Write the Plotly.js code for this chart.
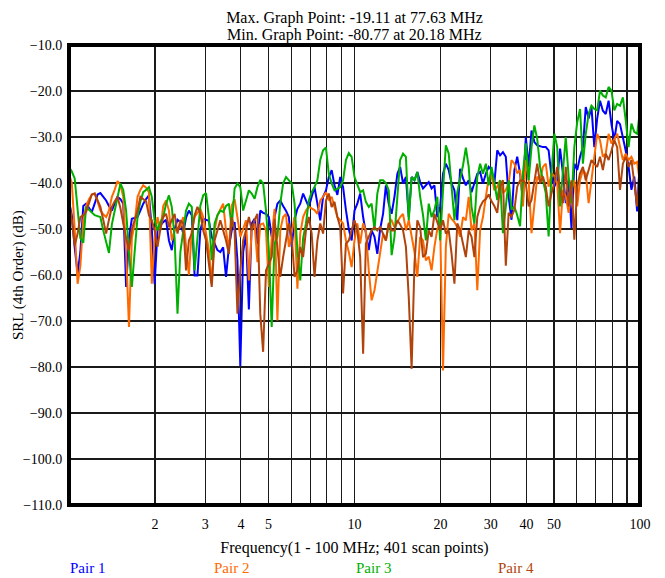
<!DOCTYPE html>
<html><head><meta charset="utf-8">
<script src="https://cdn.plot.ly/plotly-3.0.1.min.js"></script>
<style>html,body{margin:0;padding:0;background:#fff}#chart{width:665px;height:578px}</style>
</head><body><div id="chart"></div>
<script>
// Frequency scan points (MHz), log spaced 1 - 100 MHz
const freqMHz = [1.000,1.023,1.047,1.072,1.096,1.122,1.148,1.175,1.202,1.230,1.259,1.288,1.318,1.349,1.380,1.413,1.445,1.479,1.514,1.549,1.585,1.622,1.660,1.698,1.738,1.778,1.820,1.862,1.905,1.950,1.995,2.042,2.089,2.138,2.188,2.239,2.291,2.344,2.399,2.455,2.512,2.570,2.630,2.692,2.754,2.818,2.884,2.951,3.020,3.090,3.162,3.236,3.311,3.388,3.467,3.548,3.631,3.715,3.802,3.890,3.981,4.074,4.169,4.266,4.365,4.467,4.571,4.677,4.786,4.898,5.012,5.129,5.248,5.370,5.495,5.623,5.754,5.888,6.026,6.166,6.310,6.457,6.607,6.761,6.918,7.079,7.244,7.413,7.586,7.762,7.943,8.128,8.318,8.511,8.710,8.913,9.120,9.333,9.550,9.772,10.00,
10.23,10.47,10.72,10.96,11.22,11.48,11.75,12.02,12.30,12.59,12.88,13.18,13.49,13.80,14.13,14.45,14.79,15.14,15.49,15.85,16.22,16.60,16.98,17.38,17.78,18.20,18.62,19.05,19.50,19.95,20.42,20.89,21.38,21.88,22.39,22.91,23.44,23.99,24.55,25.12,25.70,26.30,26.92,27.54,28.18,28.84,29.51,30.20,30.90,31.62,32.36,33.11,33.88,34.67,35.48,36.31,37.15,38.02,38.90,39.81,40.74,41.69,42.66,43.65,44.67,45.71,46.77,47.86,48.98,50.12,51.29,52.48,53.70,54.95,56.23,57.54,58.88,60.26,61.66,63.10,64.57,66.07,67.61,69.18,70.79,72.44,74.13,75.86,77.63,79.43,81.28,83.18,85.11,87.10,89.13,91.20,93.33,95.50,97.72,100.0];

// SRL (dB) per pair
const pair1 = [-44,-47,-54,-59.7,-55,-45,-44.5,-45.5,-46.3,-44.5,
-42.5,-42.2,-43,-43.8,-45,-46,-44.5,-43,-43.5,-44.5,
-62.6,-52,-47.8,-47.6,-47.4,-46,-44.5,-43.5,-42.7,-50,
-62,-50.3,-49.2,-48.5,-48,-52.5,-54.6,-50,-48,-48.5,
-51,-47.5,-46,-47,-60.1,-60.1,-50.3,-47.8,-48,-48.2,
-51.7,-53,-54.6,-55,-54,-60.4,-54,-50.3,-48.5,-56.8,
-79.8,-55,-51,-67.5,-48.8,-47.8,-53.2,-46,-46.5,-46.7,
-47.4,-51.7,-47.4,-44.5,-43.8,-45,-46,-47.4,-53.9,-48,
-45.6,-44.5,-42.3,-43.8,-45.2,-43,-40.9,-44.5,-48.1,-43,
-41.6,-38.7,-37.2,-40.5,-42.6,-38.7,-40.9,-45.9,-50,-52.5,
-46,-44.5,-42.3,-47.4,-51,-54.6,-50.3,-51.7,-55.4,-50,
-46.7,-40.5,-44.5,-46.7,-43,-38,-36.5,-40.1,-38.7,-47.4,
-38.7,-39.4,-37.6,-39.8,-41.2,-40.5,-39.8,-41.2,-40.5,-47.4,
-45.2,-38,-35.8,-37.2,-40.1,-41.6,-48.1,-36.9,-39,-40.5,
-39.4,-42,-40.1,-38,-37.6,-40.1,-38,-36.5,-37.2,-40.1,
-32.9,-34,-33.3,-34.3,-43,-48,-37.2,-34.3,-38,-43.7,
-30,-36.5,-28.6,-31.1,-31.8,-32,-32.2,-32.2,-32.9,-38.6,
-40.8,-39.4,-32.5,-37.9,-44.4,-39.4,-49.8,-35.8,-37.2,-34.3,
-32.2,-23.5,-26,-23.5,-32.2,-26,-22.1,-24.3,-25,-22.1,
-27.2,-30.7,-26.5,-27.2,-30,-33,-36.5,-41.5,-38.6,-46.2,
-34.3];

const pair2 = [-38,-40,-50,-61.9,-58,-48,-45,-43.5,-42.5,-42.3,
-44,-46,-46.8,-47.4,-46,-43,-41.5,-39.6,-40.5,-43,
-55,-71.3,-52,-48.8,-43,-41.5,-40.5,-41,-42,-61.9,
-52,-47.4,-50.3,-45,-43.8,-46,-52.5,-50.3,-49.8,-49.6,
-47.4,-54.6,-60,-50.3,-47.4,-46.5,-45.6,-47.4,-51,-54.6,
-61.9,-50.3,-47,-45.6,-44.5,-50.3,-54.6,-44.9,-43.5,-47.4,
-51.7,-50,-48.1,-61.2,-50,-48.8,-57.2,-49,-48.8,-50.3,
-62.6,-52,-45.6,-69.9,-50.3,-47.4,-46.7,-53.9,-50.3,-47.4,
-63,-51,-47.4,-46,-45.2,-45.5,-45.9,-46.7,-43.8,-43,
-42,-43.8,-43,-45.2,-47.4,-48.1,-48.8,-52.5,-55,-58.3,
-52.5,-48.8,-53.2,-48.8,-50.3,-59,-65.5,-63.3,-59,-55.4,
-51,-52.5,-48.8,-48.1,-49.6,-48.5,-47.4,-46.7,-50.3,-48.1,
-51.7,-55,-60.4,-51.7,-52.5,-56.8,-56,-59,-53.9,-50,
-48.8,-80.77,-53.9,-46.7,-47.8,-48.5,-49.6,-51.7,-47.4,-48.1,
-43,-50.3,-48.8,-63.3,-50.3,-47.4,-43,-39,-38.5,-41.6,
-40.8,-39.4,-42.2,-41.5,-40.1,-35,-35.8,-37.9,-37.2,-45.1,
-35,-39.4,-50.9,-44.4,-38.6,-39.4,-36.5,-35.8,-40.8,-37.9,
-38.5,-40.1,-50.9,-41.5,-42.9,-46.5,-41.5,-39.4,-45.1,-39.4,
-37.2,-37.9,-44.4,-39.4,-34.3,-29.3,-30.7,-34.3,-33.6,-29.3,
-31.4,-30.5,-29.3,-32.2,-35,-33.6,-35,-34.3,-35.8,-35.4,
-40.1];

const pair3 = [-36.5,-37.5,-39,-45,-52,-53,-45.2,-45.8,-46.3,-47,
-47.2,-47.4,-50.3,-53,-55.2,-49,-46,-42.5,-40.1,-41.5,
-46,-55,-62.6,-55,-47.4,-44,-42,-41.5,-40.9,-43,
-48.1,-50.3,-48.5,-47.4,-44.5,-42.7,-45.2,-52,-68.4,-55,
-51,-46,-44.5,-45.2,-59,-51,-45,-42.7,-42.2,-47.4,
-56.8,-48.8,-47,-46,-46.3,-45,-44.5,-49.6,-41.2,-40.1,
-40.9,-46,-43.5,-41.6,-42.3,-43.4,-40.9,-39.3,-40.1,-46,
-54.6,-71.3,-53.2,-51.7,-44.5,-40.1,-38.7,-39.5,-40.1,-44.5,
-54.6,-61.2,-52,-48.8,-43.8,-42,-40.9,-39.4,-35,-32.9,
-32.3,-38,-40.1,-41.6,-41.2,-40.9,-39.4,-35,-33.5,-34.3,
-38.7,-40.5,-42,-41.6,-44.1,-45.2,-44.5,-50.3,-42.3,-39.4,
-39.4,-40,-41.6,-55.7,-51.7,-43,-35,-33.6,-34.3,-48.1,
-38.7,-39.4,-37.6,-43,-47,-52.5,-44.5,-47.4,-45.9,-43,
-52.5,-41.6,-31.8,-33.6,-40.9,-48.1,-42,-39.4,-36.2,-32.3,
-36.5,-45.2,-48.8,-38.7,-35.8,-38,-35.8,-40.5,-36.5,-40,
-43.7,-39.4,-50.9,-45.1,-39.4,-45.8,-45.1,-47,-49.4,-37.9,
-31.4,-39.4,-32.2,-27.5,-30.4,-36.5,-39.4,-42.2,-51.6,-37.9,
-29.3,-32.2,-45.1,-37.9,-30,-38.6,-44.4,-32.2,-26.8,-23.9,
-35.8,-29.3,-25,-23.2,-23.9,-24.2,-19.9,-21,-21.4,-19.11,
-19.9,-24.2,-22.8,-23.2,-21.4,-26.4,-32.2,-27.1,-28.9,-29.3,
-24.2];

const pair4 = [-43.8,-48,-53.6,-51,-47.4,-47,-46.3,-44.5,-42.5,-42.3,
-44,-45.2,-48,-51,-48,-45.2,-44,-43,-45.5,-49.2,
-52,-54.6,-50,-48.1,-46,-43,-43.5,-44,-47,-48.1,
-50.3,-53.9,-50,-47.4,-46.7,-49.6,-48,-46.7,-51,-48.1,
-48.8,-59,-52.5,-51,-47,-45.2,-46.7,-50.3,-52.5,-57,
-62.6,-52.5,-50,-48.1,-50.3,-52.5,-55.4,-47.4,-50.3,-68.4,
-59,-52.5,-50.3,-47.4,-50.3,-48,-46.7,-68.4,-76.7,-59,
-57.5,-56.1,-47.8,-53.9,-60.4,-56.1,-52,-48.8,-51.7,-60.4,
-59,-53.9,-56.1,-50.3,-47.4,-51,-60.4,-52.5,-48.8,-51,
-43.8,-42.3,-45.2,-44.1,-47.4,-49.6,-64,-53.2,-52.5,-50,
-48.1,-50.3,-56.1,-77.1,-53.2,-51.7,-50.3,-49.6,-50.3,-49.6,
-51,-52.5,-48.8,-50.3,-50.3,-48.1,-49,-50.3,-53.9,-64.8,
-80.4,-57.5,-48.1,-49.6,-56.1,-55.4,-50.3,-51.7,-46.7,-48.5,
-50.3,-48.1,-51,-50.3,-55.4,-61.9,-48.8,-50.3,-53,-56.1,
-50.3,-51.7,-56.1,-47.4,-45.2,-44,-43.5,-42.5,-44,-45,
-46.5,-40.8,-39.4,-58,-46.5,-47.3,-45.8,-40.8,-39.4,-39.5,
-40.1,-45.1,-43.7,-39.4,-35.8,-40.1,-38.6,-40.8,-45.1,-42.2,
-40,-36.5,-41.5,-44.4,-36.5,-45.1,-39.4,-52.3,-40.8,-37.9,
-36.5,-39.4,-37,-35,-35.8,-36.5,-34.3,-37.2,-33.6,-35,
-33,-30.7,-32.2,-41.5,-35.8,-34.3,-36.5,-35,-40.1,-45.1,
-36.5];

const seriesNames = ['Pair 1','Pair 2','Pair 3','Pair 4'];
const seriesColors = ['#0000ff','#ff6a00','#00b000','#b0440c'];
const xTickVals = [1,2,3,4,5,6,7,8,9,10,20,30,40,50,60,70,80,90,100];
const xTickText = ['','2','3','4','5','','','','','10','20','30','40','50','','','','','100'];
const yTickVals = [-110,-100,-90,-80,-70,-60,-50,-40,-30,-20,-10];
const titleLines = ['Max. Graph Point: -19.11 at 77.63 MHz','Min. Graph Point: -80.77 at 20.18 MHz'];
const xTitle = 'Frequency(1 - 100 MHz; 401 scan points)';
const yTitle = 'SRL (4th Order) (dB)';

const seriesData = [pair1, pair2, pair3, pair4];
const traces = seriesData.map((ys, k) => ({
  x: freqMHz, y: ys, type: 'scatter', mode: 'lines',
  name: seriesNames[k], showlegend: false,
  line: {color: seriesColors[k], width: 2}
}));

// page geometry (pixels in the 665x578 page)
const W = 665, H = 578, L = 69, R = 25, T = 45, B = 73;
const pw = W - L - R, ph = H - T - B;
const px2x = p => (p - L) / pw;
const py2y = p => (T + ph - p) / ph;

const legendPx = [87, 231, 373, 516];
const legendPy = 568;
const annotations = seriesNames.map((n, k) => ({
  text: n, xref: 'paper', yref: 'paper',
  x: px2x(legendPx[k]), y: py2y(legendPy),
  xanchor: 'center', yanchor: 'middle', showarrow: false,
  font: {color: seriesColors[k], size: 15}
}));
// second title line
annotations.push({
  text: titleLines[1], xref: 'paper', yref: 'paper', x: 0.5, y: py2y(35),
  xanchor: 'center', yanchor: 'middle', showarrow: false, font: {size: 16, color: '#000'}
});
// y axis title
annotations.push({
  text: yTitle, xref: 'paper', yref: 'paper', x: px2x(18), y: py2y(275), textangle: -90,
  xanchor: 'center', yanchor: 'middle', showarrow: false, font: {size: 15, color: '#000'}
});

const layout = {
  width: W, height: H,
  margin: {l: L, r: R, t: T, b: B, pad: 0},
  paper_bgcolor: '#ffffff', plot_bgcolor: '#ffffff',
  font: {family: '"Liberation Serif", "Times New Roman", serif', size: 14, color: '#000'},
  title: {text: titleLines[0], x: 0.5, xref: 'paper', xanchor: 'center',
          y: 1 - 17 / H, yref: 'container', yanchor: 'middle',
          font: {size: 16, color: '#000'}},
  xaxis: {type: 'log', range: [0, 2], tickmode: 'array', tickvals: xTickVals, ticktext: xTickText,
          showgrid: true, gridcolor: '#1a1a1a', gridwidth: 1.2, zeroline: false, showline: false,
          ticks: 'outside', ticklen: 6, tickcolor: 'rgba(0,0,0,0)',
          tickfont: {size: 14}, fixedrange: true,
          title: {text: xTitle, standoff: 11, font: {size: 16}}},
  yaxis: {range: [-110, -10], tickmode: 'array', tickvals: yTickVals, tickformat: '.1f',
          showgrid: true, gridcolor: '#1a1a1a', gridwidth: 1.2, zeroline: false, showline: false,
          ticks: 'outside', ticklen: 3, tickcolor: 'rgba(0,0,0,0)',
          tickfont: {size: 14}, fixedrange: true},
  shapes: [{type: 'rect', xref: 'paper', yref: 'paper', x0: 0, x1: 1, y0: 0, y1: 1,
            line: {color: '#000', width: 4}, layer: 'above'}],
  annotations: annotations
};

Plotly.newPlot('chart', traces, layout, {displayModeBar: false, staticPlot: true});
</script>
</body></html>
